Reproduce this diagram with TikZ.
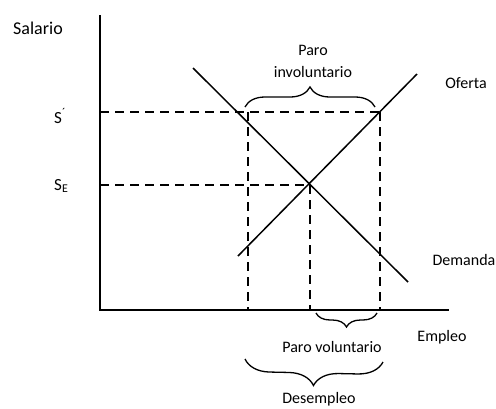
\documentclass[tikz,border=0pt]{standalone}
\usepackage{fontspec}
\setmainfont{Carlito}
\usetikzlibrary{decorations.pathreplacing}
\begin{document}
\begin{tikzpicture}[x=1pt,y=-1pt,
  axis/.style={line width=2pt},
  curve/.style={line width=1.5pt},
  guide/.style={line width=1.5pt, dash pattern=on 9pt off 6pt},
  bracestyle/.style={line width=1.3pt, decorate, decoration={brace, amplitude=#1}},
  lbl/.style={font=\fontsize{16}{19}\selectfont, inner sep=0pt, anchor=base}]
\useasboundingbox (0,0) rectangle (496,408);
% axes
\coordinate (ytop) at (100,15);
\coordinate (O) at (100,310);
\coordinate (xend) at (449,310);
\draw[axis] (ytop) -- (O) -- (xend);
% curves
\coordinate (dA) at (193,68);
\coordinate (dB) at (408,282);
\coordinate (oA) at (238,256);
\coordinate (oB) at (417,74);
\draw[curve] (dA) -- (dB);
\draw[curve] (oA) -- (oB);
% guides
\coordinate (sp) at (100,112);
\coordinate (se) at (100,185);
\coordinate (E) at (310,185);
\coordinate (L) at (248,112);
\coordinate (R) at (380,112);
\coordinate (Lb) at (248,310);
\coordinate (Mb) at (310,310);
\coordinate (Rb) at (380,310);
\draw[guide] (sp) -- (R);
\draw[guide] (se) -- (E);
\draw[guide] (L) -- (Lb);
\draw[guide] (E) -- (Mb);
\draw[guide] (R) -- (Rb);
% braces
\coordinate (b1a) at (245,107);
\coordinate (b1b) at (375,107);
\coordinate (b2a) at (316,313);
\coordinate (b2b) at (377,313);
\coordinate (b3a) at (245,359);
\coordinate (b3b) at (383,362);
\draw[bracestyle=20] (b1a) -- (b1b);
\draw[bracestyle=14] (b2b) -- (b2a);
\draw[bracestyle=25] (b3b) -- (b3a);
% labels
\node[lbl, font=\fontsize{18}{21}\selectfont] (salario) at (38,34.5) {Salario};
\node[lbl, anchor=base west, font=\fontsize{17}{20}\selectfont] (sprime) at (54,123) {S\textsuperscript{´}};
\node[lbl, anchor=base west, font=\fontsize{17}{20}\selectfont] (sE) at (54,190) {S\textsubscript{E}};
\node[lbl] (paro) at (313,55) {Paro};
\node[lbl] (invol) at (313,77) {involuntario};
\node[lbl] (oferta) at (466,88) {Oferta};
\node[lbl] (demanda) at (464,265) {Demanda};
\node[lbl] (empleo) at (442,341) {Empleo};
\node[lbl] (parovol) at (332,352) {Paro voluntario};
\node[lbl] (desempleo) at (319,403) {Desempleo};
\end{tikzpicture}
\end{document}
